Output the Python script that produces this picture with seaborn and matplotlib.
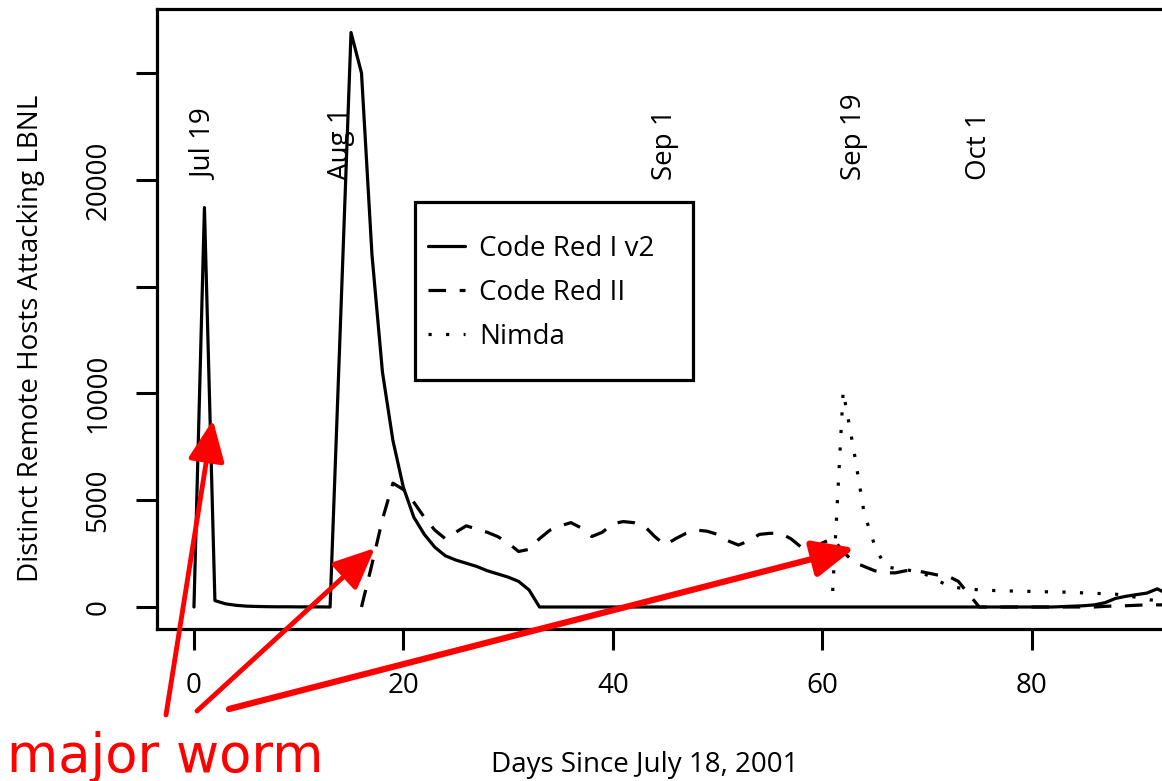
import numpy as np
import pandas as pd
import seaborn as sns
import matplotlib.pyplot as plt
from matplotlib.patches import Rectangle

# daily counts of distinct remote hosts, day 0 = July 18, 2001
code_red_1_start = 0
code_red_1 = [0, 18700, 300, 150, 80, 40, 25, 15, 10, 10, 5, 5, 5, 0,
              13400, 26900, 25000, 16500, 11000, 7800, 5600, 4200, 3400, 2800,
              2400, 2200, 2050, 1900, 1700, 1550, 1400, 1200, 800, 0,
              0, 0, 0, 0, 0, 0, 0, 0, 0, 0, 0, 0, 0, 0, 0, 0,
              0, 0, 0, 0, 0, 0, 0, 0, 0, 0, 0, 0, 0, 0, 0, 0,
              0, 0, 0, 0, 0, 0, 0, 0, 0, 0, 0, 0, 0, 0, 0, 0,
              0, 20, 40, 60, 100, 200, 400, 500, 580, 650, 850, 600]

code_red_2_start = 16
code_red_2 = [0, 2000, 4100, 5800, 5500, 4900, 4200, 3600, 3200, 3500,
              3800, 3650, 3500, 3300, 3000, 2600, 2700, 3200, 3600, 3800,
              3950, 3700, 3300, 3500, 3900, 4000, 3950, 3800, 3300, 2900,
              3200, 3450, 3600, 3550, 3400, 3100, 2900, 3100, 3400, 3450,
              3450, 3200, 2800, 2600, 3000, 3200, 2600, 2100, 1900, 1700,
              1600, 1600, 1700, 1700, 1600, 1500, 1450, 1200, 600, 0,
              0, 0, 0, 0, 0, 0, 0, 0, 0, 0, 0, 30, 50, 60, 80, 100, 100, 100]

nimda_start = 61
nimda = [750, 10100, 7400, 4400, 2900, 1900, 1800, 1750, 1650, 1500,
         1250, 1000, 900, 850, 800, 780, 760, 750, 740, 730,
         720, 700, 700, 680, 660, 640, 620, 600, 550, 450, 350, 300, 250]

series_names = ['Code Red I v2', 'Code Red II', 'Nimda']

date_days = [1, 14, 45, 63, 75]
date_labels = ['Jul 19', 'Aug 1', 'Sep 1', 'Sep 19', 'Oct 1']

x_ticks = [0, 20, 40, 60, 80]
y_ticks = [0, 5000, 10000, 15000, 20000, 25000]
y_tick_labels = ['0', '5000', '10000', '', '20000', '']

sns.set_style('ticks')
plt.rcParams['font.family'] = ['Open Sans', 'DejaVu Sans']
plt.rcParams['text.color'] = 'black'
plt.rcParams['axes.labelcolor'] = 'black'
plt.rcParams['xtick.color'] = 'black'
plt.rcParams['ytick.color'] = 'black'

fig = plt.figure(figsize=(11.62, 7.81), dpi=100)
ax = fig.add_axes([157 / 1162, 152 / 781, 1005 / 1162, 620 / 781])

styles = ['-', (0, (5.5, 4.25)), (0, (1, 4.5))]
data = [(code_red_1_start, code_red_1), (code_red_2_start, code_red_2), (nimda_start, nimda)]
for name, style, (start, vals) in zip(series_names, styles, data):
    df = pd.DataFrame({'day': np.arange(start, start + len(vals)), 'hosts': vals})
    sns.lineplot(data=df, x='day', y='hosts', ax=ax, color='black', linewidth=2.3,
                 linestyle=style, label=name, legend=False)

for d, lab in zip(date_days, date_labels):
    ax.text(d, 20000, lab, rotation=90, ha='center', va='bottom', fontsize=20)

ax.set_xlim(-3.53, 92.45)
ax.set_ylim(-1030, 28000)
ax.set_xticks(x_ticks)
ax.set_yticks(y_ticks)
ax.set_yticklabels(y_tick_labels)
ax.tick_params(axis='both', length=15, width=2.2, direction='out', labelsize=20, color='black')
ax.tick_params(axis='x', pad=16)
ax.tick_params(axis='y', pad=17, labelrotation=90)
for lab in ax.get_yticklabels():
    lab.set_va('center')

for side in ['left', 'top', 'bottom']:
    ax.spines[side].set_linewidth(2.3)
    ax.spines[side].set_color('black')
ax.spines['right'].set_visible(False)

ax.set_xlabel('Days Since July 18, 2001', fontsize=20)
ax.set_ylabel('Distinct Remote Hosts Attacking LBNL', fontsize=20)
ax.xaxis.set_label_coords(0.4856, -0.197)
ax.yaxis.set_label_coords(-0.1114, 0.469)

handles, labels = ax.get_legend_handles_labels()
ax.legend(handles, labels, loc='upper left', bbox_to_anchor=(0.2697, 0.6355),
          frameon=False, borderpad=0, borderaxespad=0, fontsize=20,
          handlelength=1.33, handletextpad=0.5, labelspacing=0.58)
ax.add_patch(Rectangle((0.2567, 0.4016), 0.2766, 0.2871, transform=ax.transAxes,
                       fill=False, edgecolor='black', linewidth=2.3, clip_on=False))

# red "major worm" arrows
tips = [(1.81, 8760), (17.28, 2760), (63.1, 2760)]
tails = [(166 / 1162, 66 / 781), (197 / 1162, 70 / 781), (229 / 1162, 72 / 781)]
widths = [3.5, 3.5, 4.5]
for tip, tail, w in zip(tips, tails, widths):
    ax.annotate('', xy=tip, xycoords='data', xytext=tail, textcoords='figure fraction',
                arrowprops=dict(arrowstyle='-|>,head_length=0.9,head_width=0.4',
                                color='red', lw=w, mutation_scale=28,
                                shrinkA=0, shrinkB=0),
                annotation_clip=False)

fig.text(7 / 1162, 9 / 781, 'major worm', color='red', fontsize=38,
         family='DejaVu Sans', va='baseline', ha='left')

fig.savefig('out.png', dpi=100)
